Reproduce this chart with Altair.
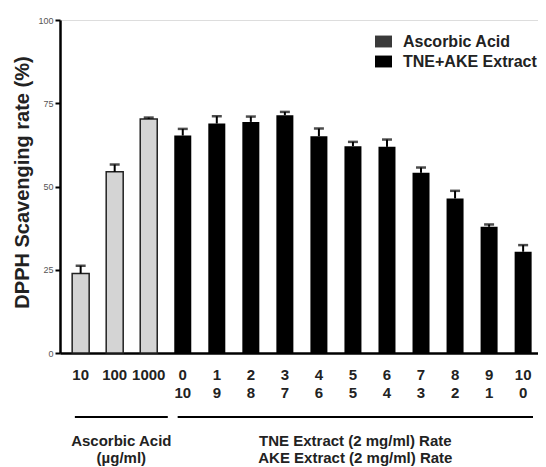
import altair as alt
import pandas as pd

# ---- data ----
groups = ["Ascorbic Acid"] * 3 + ["TNE+AKE Extract"] * 11
row1 = ["10", "100", "1000", "0", "1", "2", "3", "4", "5", "6", "7", "8", "9", "10"]
row2 = ["", "", "", "10", "9", "8", "7", "6", "5", "4", "3", "2", "1", "0"]
values = [23.9, 54.4, 70.3, 65.3, 68.9, 69.4, 71.4, 65.1, 62.1, 61.9, 54.1, 46.4, 37.9, 30.4]
errors = [2.3, 2.2, 0.4, 2.0, 2.2, 1.6, 1.0, 2.3, 1.3, 2.2, 1.6, 2.3, 0.7, 2.0]
y_ticks = [0, 25, 50, 75, 100]
legend_labels = ["Ascorbic Acid", "TNE+AKE Extract"]
legend_colors = ["#3a3a3a", "#000000"]

group_text = ["Ascorbic  Acid\n(\u00b5g/ml)", "TNE Extract (2 mg/ml) Rate\nAKE Extract (2 mg/ml) Rate"]
group_start = [-0.17, 2.85]
group_end = [2.56, 13.29]

FONT = "Liberation Sans"

df = pd.DataFrame({"idx": list(range(len(values))), "group": groups,
                   "value": values, "err": errors, "row1": row1, "row2": row2})
df["upper"] = df["value"] + df["err"]

gdf = pd.DataFrame({"text": group_text, "start": group_start, "end": group_end})
gdf["mid"] = (gdf["start"] + gdf["end"]) / 2

xscale = alt.Scale(domain=[-0.46, 13.29], nice=False, zero=False)
yscale = alt.Scale(domain=[0, 100], nice=False)

x_enc = alt.X("idx:Q", scale=xscale, axis=alt.Axis(
    values=list(range(len(values))), labels=False, title=None,
    ticks=False, grid=False, domainColor="#000", domainWidth=2.5))

y_enc = alt.Y("value:Q", scale=yscale, axis=alt.Axis(
    values=y_ticks, title="DPPH Scavenging rate (%)", grid=False,
    domainColor="#000", domainWidth=2.5, tickColor="#000", tickWidth=2, tickSize=5,
    labelFont=FONT, labelFontSize=9, labelColor="#555", labelPadding=2,
    titleFont=FONT, titleFontSize=20, titleFontWeight="bold", titleColor="#222",
    titleX=-38, titleY=162, titleBaseline="middle"))

base = alt.Chart(df)

bars = base.mark_bar(width=17).encode(
    x=x_enc, y=y_enc,
    color=alt.Color("group:N", scale=alt.Scale(domain=legend_labels, range=legend_colors),
                    legend=alt.Legend(title=None, orient="none", legendX=315, legendY=13,
                                      symbolType="M-1,-0.7H1V0.7H-1Z", symbolSize=289,
                                      labelFont=FONT, labelFontSize=16, labelFontWeight="bold",
                                      labelColor="#222", labelOffset=11, rowPadding=3,
                                      padding=0, symbolStrokeWidth=0, symbolOpacity=1)))

asc = base.transform_filter(alt.datum.group == "Ascorbic Acid").mark_bar(
    width=17, fill="#d4d4d4", stroke="#222", strokeWidth=1.5).encode(
    x=alt.X("idx:Q"), y=alt.Y("value:Q"))

stems = base.mark_rule(color="#000", strokeWidth=2).encode(
    x=alt.X("idx:Q"), y=alt.Y("value:Q"), y2="upper:Q")

caps = base.mark_tick(orient="horizontal", color="#000", size=10, thickness=2.5).encode(
    x=alt.X("idx:Q"), y=alt.Y("upper:Q"))

lab_style = dict(baseline="top", align="center", font=FONT, fontSize=15,
                 fontWeight="bold", color="#222")
lab1 = base.mark_text(**lab_style).encode(x=alt.X("idx:Q"), y=alt.value(348), text="row1:N")
lab2 = base.mark_text(**lab_style).encode(x=alt.X("idx:Q"), y=alt.value(366), text="row2:N")

gbase = alt.Chart(gdf)
glines = gbase.mark_rule(color="#000", strokeWidth=2).encode(
    x=alt.X("start:Q"), x2="end:Q", y=alt.value(397))
gtext = gbase.mark_text(lineBreak="\n", baseline="top", align="center", font=FONT,
                        fontSize=15, fontWeight="bold", color="#222", lineHeight=17).encode(
    x=alt.X("mid:Q"), y=alt.value(414), text="text:N")

chart = alt.layer(bars, asc, stems, caps, lab1, lab2, glines, gtext).properties(
    width=478, height=333,
    autosize=alt.AutoSizeParams(type="none"),
    padding={"left": 52, "top": 12, "right": 0, "bottom": 114},
).configure_view(stroke=None).configure(font=FONT)

chart.save("out.html", embed_options={"renderer": "svg", "actions": False})
